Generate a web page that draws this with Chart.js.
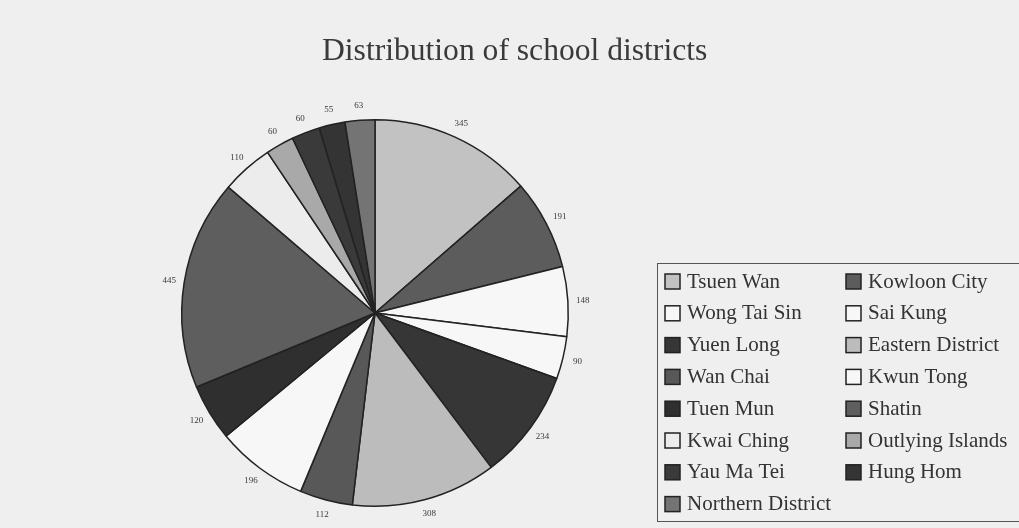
<!DOCTYPE html>
<html>
<head>
<meta charset="utf-8">
<script src="https://cdn.jsdelivr.net/npm/chart.js@4.4.1/dist/chart.umd.min.js"></script>
<style>
  html, body { margin: 0; padding: 0; background: #efefef; }
  #wrap { width: 1019px; height: 528px; position: relative; }
</style>
</head>
<body>
<div id="wrap"><canvas id="myChart" width="1019" height="528"></canvas></div>
<script>
// districts, in legend order (which is also the slice order, clockwise from top)
var districts = ['Tsuen Wan', 'Kowloon City', 'Wong Tai Sin', 'Sai Kung', 'Yuen Long',
    'Eastern District', 'Wan Chai', 'Kwun Tong', 'Tuen Mun', 'Shatin',
    'Kwai Ching', 'Outlying Islands', 'Yau Ma Tei', 'Hung Hom', 'Northern District'];
var schools = [345, 191, 148, 90, 234, 308, 112, 196, 120, 445, 110, 60, 60, 55, 63];
var shades = ['#c2c2c2', '#5c5c5c', '#f7f7f7', '#f7f7f7', '#363636',
    '#bcbcbc', '#585858', '#f7f7f7', '#2f2f2f', '#5e5e5e',
    '#ececec', '#a9a9a9', '#3a3a3a', '#343434', '#747474'];
var chartTitle = 'Distribution of school districts';

var extras = {
    id: 'extras',
    afterDraw: function (chart) {
        var ctx = chart.ctx;
        ctx.save();

        // title
        ctx.fillStyle = '#3a3a3a';
        ctx.font = '31.6px "Liberation Serif"';
        ctx.textAlign = 'left';
        ctx.textBaseline = 'alphabetic';
        ctx.fillText(chartTitle, 322, 60);

        // value labels just outside the rim
        var arcs = chart.getDatasetMeta(0).data;
        ctx.font = '9px "Liberation Serif"';
        ctx.textAlign = 'center';
        ctx.textBaseline = 'middle';
        arcs.forEach(function (arc, i) {
            var mid = (arc.startAngle + arc.endAngle) / 2;
            var r = arc.outerRadius + 15;
            ctx.fillText(schools[i], arc.x + Math.cos(mid) * r, arc.y + Math.sin(mid) * r);
        });

        // legend box, two columns filled row by row
        ctx.strokeStyle = '#555';
        ctx.lineWidth = 1;
        ctx.strokeRect(657.5, 263.5, 400, 258);
        ctx.font = '21px "Liberation Serif"';
        ctx.textAlign = 'left';
        districts.forEach(function (name, i) {
            var col = i % 2, row = Math.floor(i / 2);
            var x = col ? 846 : 665;
            var y = 282 + row * 31.8;
            ctx.fillStyle = shades[i];
            ctx.fillRect(x, y - 8, 15, 15);
            ctx.strokeStyle = '#222';
            ctx.lineWidth = 1.5;
            ctx.strokeRect(x, y - 8, 15, 15);
            ctx.fillStyle = '#333';
            ctx.fillText(name, x + 22, y);
        });
        ctx.restore();
    }
};

new Chart(document.getElementById('myChart'), {
    type: 'pie',
    data: {
        labels: districts,
        datasets: [{
            data: schools,
            backgroundColor: shades,
            borderColor: '#222',
            borderWidth: 1.5
        }]
    },
    options: {
        responsive: false,
        animation: false,
        layout: { padding: { left: 181, right: 450, top: 119, bottom: 21 } },
        plugins: {
            legend: { display: false },
            tooltip: { enabled: false },
            title: { display: false }
        }
    },
    plugins: [extras]
});
</script>
</body>
</html>
